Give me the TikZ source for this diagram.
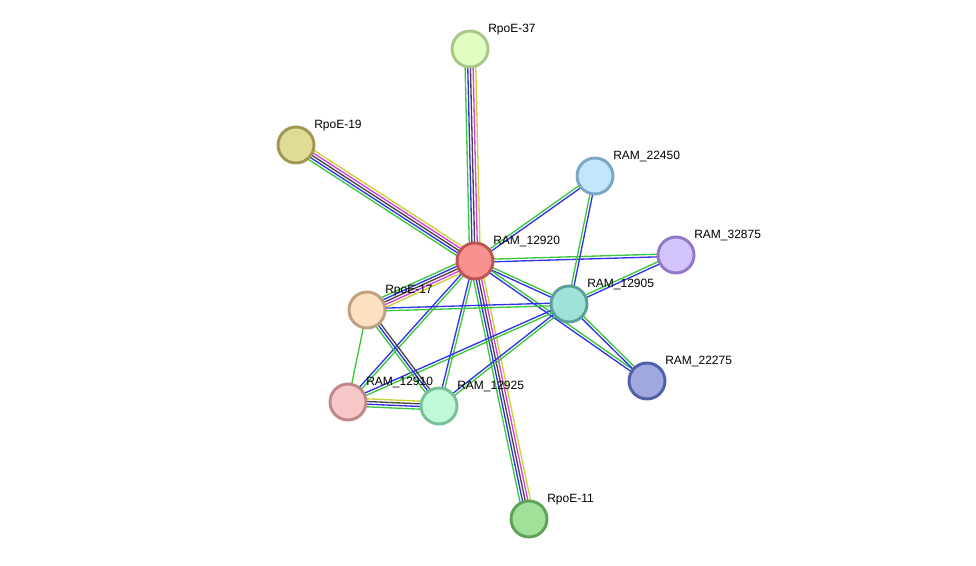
\documentclass[tikz,border=0pt]{standalone}
\usepackage{fontspec}
\setmainfont{Liberation Sans}
\usepackage{xcolor}
\usetikzlibrary{calc}
\pgfdeclarelayer{edges}
\pgfsetlayers{edges,main}

\definecolor{sgreen}{RGB}{60,200,60}
\definecolor{sblue}{RGB}{50,50,235}
\definecolor{sblack}{RGB}{70,70,70}
\definecolor{smag}{RGB}{220,60,220}
\definecolor{syel}{RGB}{200,210,50}

\definecolor{f12920}{RGB}{250,145,145}\definecolor{d12920}{RGB}{190,85,85}
\definecolor{f37}{RGB}{224,255,192}\definecolor{d37}{RGB}{168,200,136}
\definecolor{f19}{RGB}{224,220,152}\definecolor{d19}{RGB}{160,152,80}
\definecolor{f22450}{RGB}{196,230,250}\definecolor{d22450}{RGB}{120,168,196}
\definecolor{f32875}{RGB}{212,196,252}\definecolor{d32875}{RGB}{148,120,200}
\definecolor{f12905}{RGB}{160,226,216}\definecolor{d12905}{RGB}{88,160,152}
\definecolor{f22275}{RGB}{160,168,224}\definecolor{d22275}{RGB}{80,96,168}
\definecolor{f17}{RGB}{253,224,192}\definecolor{d17}{RGB}{192,160,128}
\definecolor{f12910}{RGB}{248,200,200}\definecolor{d12910}{RGB}{192,136,136}
\definecolor{f12925}{RGB}{192,248,216}\definecolor{d12925}{RGB}{120,192,152}
\definecolor{f11}{RGB}{160,224,152}\definecolor{d11}{RGB}{96,160,88}

% several coloured lines side by side between two proteins
\newcommand{\evlink}[4]{%
  \foreach \c [count=\i] in {#4} {
    \pgfmathsetmacro{\off}{((#3+1)/2-\i)*2}
    \draw[\c,line width=1pt] ($(#1)!\off pt!90:(#2)$) -- ($(#2)!\off pt!-90:(#1)$);
  }}

\tikzset{
  prot/.style={circle,fill=f#1,draw=d#1,line width=2.2pt,minimum size=27pt,inner sep=0pt},
  lbl/.style={font=\fontsize{9}{10}\selectfont,anchor=west,inner sep=0pt}
}

\begin{document}
\begin{tikzpicture}[x=0.75pt,y=-0.75pt]
\useasboundingbox (0,0) rectangle (976,566);
\node[prot=12920] (c12920) at (475,261) {};
\node[prot=37] (e37) at (470,49) {};
\node[prot=19] (e19) at (296,145) {};
\node[prot=22450] (r22450) at (595,176) {};
\node[prot=32875] (r32875) at (676,255) {};
\node[prot=12905] (r12905) at (569,304) {};
\node[prot=22275] (r22275) at (647,381) {};
\node[prot=17] (e17) at (367,310) {};
\node[prot=12910] (r12910) at (348,402) {};
\node[prot=12925] (r12925) at (439,406) {};
\node[prot=11] (e11) at (529,519) {};

\node[lbl] (l12920) at ([shift={(18,-19)}]c12920) {RAM\_12920};
\node[lbl] (l37) at ([shift={(18,-19)}]e37) {RpoE-37};
\node[lbl] (l19) at ([shift={(18,-19)}]e19) {RpoE-19};
\node[lbl] (l22450) at ([shift={(18,-19)}]r22450) {RAM\_22450};
\node[lbl] (l32875) at ([shift={(18,-19)}]r32875) {RAM\_32875};
\node[lbl] (l12905) at ([shift={(18,-19)}]r12905) {RAM\_12905};
\node[lbl] (l22275) at ([shift={(18,-19)}]r22275) {RAM\_22275};
\node[lbl] (l17) at ([shift={(18,-19)}]e17) {RpoE-17};
\node[lbl] (l12910) at ([shift={(18,-19)}]r12910) {RAM\_12910};
\node[lbl] (l12925) at ([shift={(18,-19)}]r12925) {RAM\_12925};
\node[lbl] (l11) at ([shift={(18,-19)}]e11) {RpoE-11};

\begin{pgfonlayer}{edges}
\evlink{c12920}{e37}{5}{sgreen,sblue,sblack,smag,syel}
\evlink{c12920}{e19}{5}{sgreen,sblue,sblack,smag,syel}
\evlink{e17}{c12920}{5}{sgreen,sblue,sblack,smag,syel}
\evlink{e11}{c12920}{5}{sgreen,sblue,sblack,smag,syel}
\evlink{c12920}{r22450}{2}{sgreen,sblue}
\evlink{c12920}{r32875}{2}{sgreen,sblue}
\evlink{c12920}{r12905}{2}{sgreen,sblue}
\evlink{c12920}{r22275}{2}{sgreen,sblue}
\evlink{c12920}{r12910}{2}{sgreen,sblue}
\evlink{c12920}{r12925}{2}{sgreen,sblue}
\evlink{r12905}{r22450}{2}{sgreen,sblue}
\evlink{r12905}{r32875}{2}{sgreen,sblue}
\evlink{r12905}{r22275}{2}{sgreen,sblue}
\evlink{r12905}{e17}{2}{sgreen,sblue}
\evlink{r12905}{r12910}{2}{sgreen,sblue}
\evlink{r12905}{r12925}{2}{sgreen,sblue}
\evlink{e17}{r12910}{1}{sgreen}
\evlink{e17}{r12925}{3}{sblack,sblue,sgreen}
\evlink{r12925}{r12910}{4}{sgreen,sblue,sblack,syel}
\end{pgfonlayer}
\end{tikzpicture}
\end{document}
